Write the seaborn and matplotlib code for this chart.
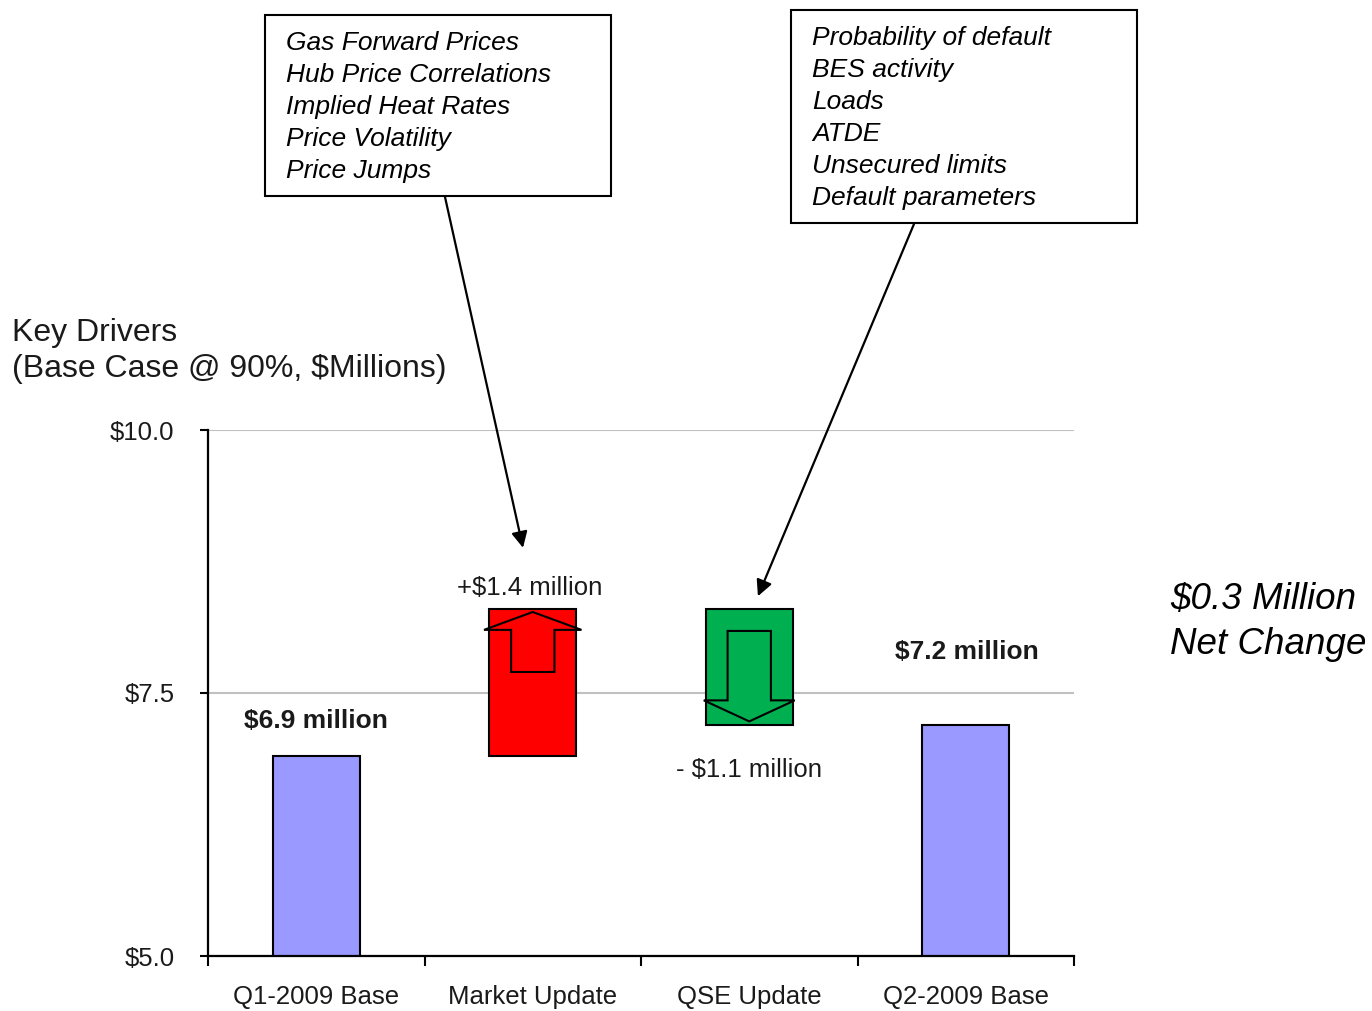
import matplotlib
matplotlib.use("Agg")
import matplotlib.pyplot as plt
from matplotlib.patches import Polygon, Rectangle
from matplotlib.ticker import FixedLocator
import numpy as np
import pandas as pd
import seaborn as sns

# ---- data ----
categories = ["Q1-2009 Base", "Market Update", "QSE Update", "Q2-2009 Base"]
start_value = 6.9
deltas = [1.4, -1.1]
end_value = 7.2
value_labels = ["$6.9 million", "+$1.4 million", "- $1.1 million", "$7.2 million"]
y_ticks = [5.0, 7.5, 10.0]
y_tick_labels = ["$5.0", "$7.5", "$10.0"]
market_drivers = ["Gas Forward Prices", "Hub Price Correlations", "Implied Heat Rates",
                  "Price Volatility", "Price Jumps"]
qse_drivers = ["Probability of default", "BES activity", "Loads", "ATDE",
               "Unsecured limits", "Default parameters"]
net_change = ["$0.3 Million", "Net Change"]

sns.set_style("white")
plt.rcParams["font.family"] = ["Liberation Sans", "DejaVu Sans"]

W, H = 1372, 1011
fig = plt.figure(figsize=(W / 100, H / 100), dpi=100)


def fx(x):
    return x / W


def fy(y):
    return 1 - y / H


ax = fig.add_axes([fx(208), fy(956), fx(1074) - fx(208), fy(430) - fy(956)])

# waterfall geometry
up_bottom = start_value
up_top = start_value + deltas[0]
down_top = up_top
down_bottom = up_top + deltas[1]

BLUE, RED, GREEN = "#9999FF", "#FF0000", "#00B050"
bar_w = 0.4
edge = dict(edgecolor="black", linewidth=1.5)

base_df = pd.DataFrame({"category": [categories[0], categories[3]],
                        "value": [start_value, end_value]})
sns.barplot(data=base_df, x="category", y="value", order=categories, color=BLUE,
            saturation=1, width=bar_w, ax=ax, zorder=3, **edge)

up_df = pd.DataFrame({"category": [categories[1]], "value": [deltas[0]]})
sns.barplot(data=up_df, x="category", y="value", order=categories, color=RED,
            saturation=1, width=bar_w, bottom=up_bottom, ax=ax, zorder=3, **edge)

down_df = pd.DataFrame({"category": [categories[2]], "value": [-deltas[1]]})
sns.barplot(data=down_df, x="category", y="value", order=categories, color=GREEN,
            saturation=1, width=bar_w, bottom=down_bottom, ax=ax, zorder=3, **edge)

ax.set_xlim(-0.5, 3.5)
ax.set_ylim(y_ticks[0], y_ticks[-1])
ax.set_xlabel("")
ax.set_ylabel("")

# hollow arrows inside the change bars
up_arrow = np.array([
    [1 - 0.10, up_top - 0.60], [1 - 0.10, up_top - 0.20], [1 - 0.225, up_top - 0.20],
    [1.0, up_top - 0.03],
    [1 + 0.225, up_top - 0.20], [1 + 0.10, up_top - 0.20], [1 + 0.10, up_top - 0.60],
])
ax.add_patch(Polygon(up_arrow, closed=True, fill=False, edgecolor="black",
                     linewidth=1.5, zorder=4))
down_arrow = np.array([
    [2 - 0.10, down_top - 0.21], [2 - 0.10, down_bottom + 0.23], [2 - 0.21, down_bottom + 0.23],
    [2.0, down_bottom + 0.03],
    [2 + 0.21, down_bottom + 0.23], [2 + 0.10, down_bottom + 0.23], [2 + 0.10, down_top - 0.21],
])
ax.add_patch(Polygon(down_arrow, closed=True, fill=False, edgecolor="black",
                     linewidth=1.5, zorder=4))

# value labels
label_color = "#1a1a1a"
ax.annotate(value_labels[0], (0, start_value), xytext=(0, 25), textcoords="offset points",
            ha="center", va="center", fontsize=19, fontweight="bold", color=label_color)
ax.annotate(value_labels[1], (1, up_top), xytext=(-2, 15), textcoords="offset points",
            ha="center", va="center", fontsize=18.5, color=label_color)
ax.annotate(value_labels[2], (2, down_bottom), xytext=(0, -33), textcoords="offset points",
            ha="center", va="center", fontsize=18.5, color=label_color)
ax.annotate(value_labels[3], (3, end_value), xytext=(1, 52), textcoords="offset points",
            ha="center", va="center", fontsize=19, fontweight="bold", color=label_color)

# axes styling
for s in ["top", "right"]:
    ax.spines[s].set_visible(False)
for s in ["left", "bottom"]:
    ax.spines[s].set_color("black")
    ax.spines[s].set_linewidth(1.6)
    ax.spines[s].set_zorder(5)

ax.yaxis.set_major_locator(FixedLocator(y_ticks))
ax.set_yticklabels(y_tick_labels)
ax.grid(axis="y", color="#C0C0C0", linewidth=1.5, zorder=0)
ax.set_axisbelow(True)
ax.tick_params(axis="y", which="major", direction="out", length=6, width=1.5,
               color="black", pad=18, labelsize=18.5, labelcolor=label_color, left=True)
ax.set_xticks(range(len(categories)))
ax.set_xticklabels(categories)
ax.xaxis.set_minor_locator(FixedLocator(np.arange(-0.5, len(categories), 1.0)))
ax.tick_params(axis="x", which="major", length=0, pad=21, labelsize=18.5,
               labelcolor=label_color)
ax.tick_params(axis="x", which="minor", direction="out", length=7, width=1.5,
               color="black", bottom=True)

# heading
fig.text(fx(12), fy(333), "Key Drivers", ha="left", va="center", fontsize=23,
         color=label_color)
fig.text(fx(12), fy(369), "(Base Case @ 90%, $Millions)", ha="left", va="center",
         fontsize=23, color=label_color)

# net change note
fig.text(fx(1170), fy(599), net_change[0], ha="left", va="center", fontsize=26.5,
         style="italic", color="black")
fig.text(fx(1170), fy(644), net_change[1], ha="left", va="center", fontsize=26.5,
         style="italic", color="black")


# driver callout boxes
def callout(x0, y0, x1, y1, text_x, first_y, lines):
    fig.add_artist(Rectangle((fx(x0), fy(y1)), fx(x1) - fx(x0), fy(y0) - fy(y1),
                             transform=fig.transFigure, fill=False,
                             edgecolor="black", linewidth=1.5))
    for i, line in enumerate(lines):
        fig.text(fx(text_x), fy(first_y + 32 * i), line, ha="left", va="center",
                 fontsize=19, style="italic", color="black")


callout(265, 15, 611, 196, 286, 43, market_drivers)
callout(791, 10, 1137, 223, 812, 38, qse_drivers)

arrow_kw = dict(arrowstyle="-|>", color="black", lw=1.6, mutation_scale=24,
                shrinkA=0, shrinkB=0)
ax.annotate("", xy=(0.955, 8.88), xycoords="data",
            xytext=(fx(445), fy(197)), textcoords="figure fraction",
            arrowprops=arrow_kw, annotation_clip=False)
ax.annotate("", xy=(2.04, 8.42), xycoords="data",
            xytext=(fx(914), fy(224)), textcoords="figure fraction",
            arrowprops=arrow_kw, annotation_clip=False)

fig.savefig("out.png", dpi=100)
